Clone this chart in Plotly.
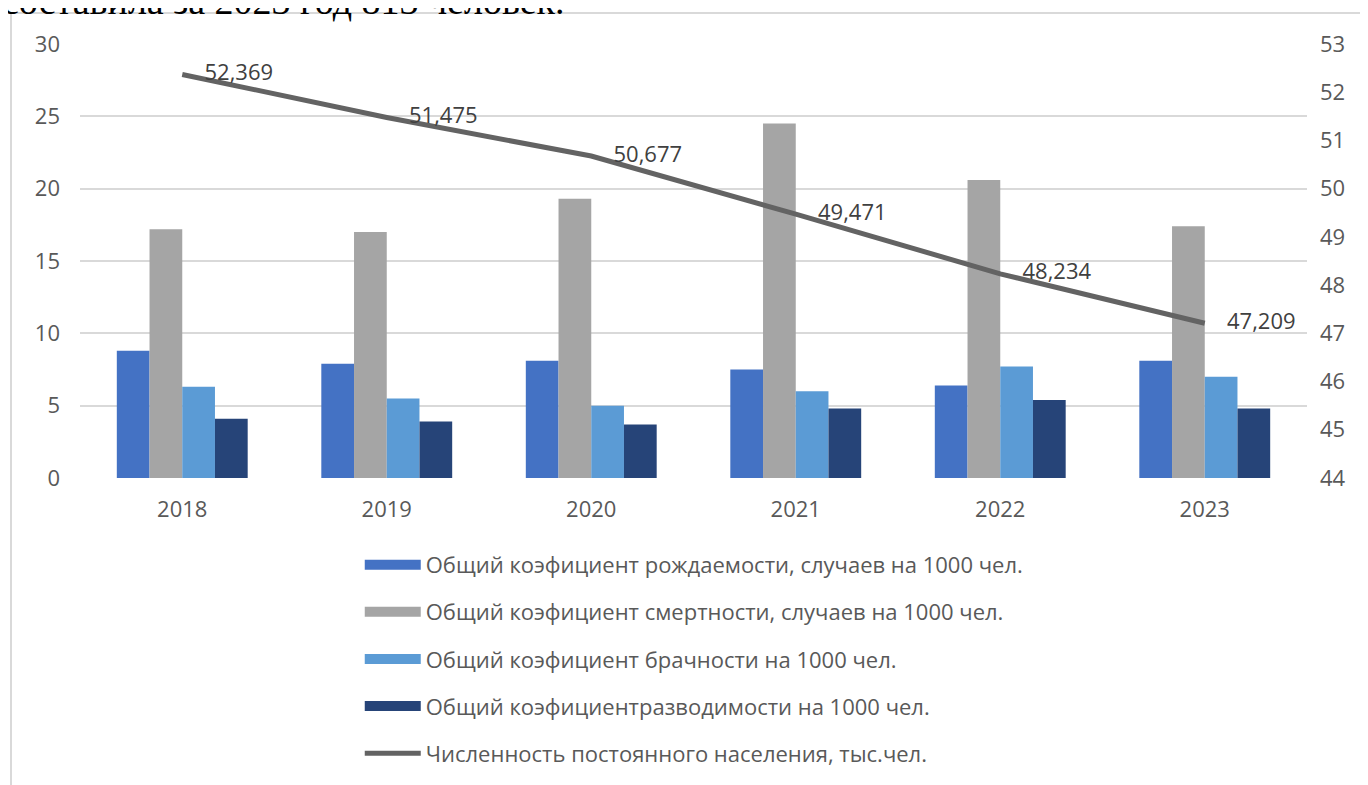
import plotly.graph_objects as go

years = ['2018', '2019', '2020', '2021', '2022', '2023']

birth_rate = [8.8, 7.9, 8.1, 7.5, 6.4, 8.1]
death_rate = [17.2, 17.0, 19.3, 24.5, 20.6, 17.4]
marriage_rate = [6.3, 5.5, 5.0, 6.0, 7.7, 7.0]
divorce_rate = [4.1, 3.9, 3.7, 4.8, 5.4, 4.8]
population = [52.369, 51.475, 50.677, 49.471, 48.234, 47.209]

bar_names = [
    'Общий коэфициент рождаемости, случаев на 1000 чел.',
    'Общий коэфициент смертности, случаев на 1000 чел.',
    'Общий коэфициент брачности на 1000 чел.',
    'Общий коэфициентразводимости на 1000 чел.',
]
line_name = 'Численность постоянного населения, тыс.чел.'

bar_colors = ['#4472C4', '#A5A5A5', '#5B9BD5', '#264478']
line_color = '#636363'
txt_color = '#595959'
grid_color = '#D9D9D9'
font_main = 'Open Sans, Liberation Sans, sans-serif'
fsize = 22

fig = go.Figure()

for i, vals in enumerate([birth_rate, death_rate, marriage_rate, divorce_rate]):
    fig.add_trace(go.Bar(
        x=years, y=vals, name=bar_names[i],
        marker_color=bar_colors[i], marker_line_width=0,
        showlegend=False,
    ))

fig.add_trace(go.Scatter(
    x=years, y=population, name=line_name, yaxis='y2',
    mode='lines+markers+text', line=dict(color=line_color, width=5),
    marker=dict(size=34, color='rgba(0,0,0,0)'),
    texttemplate='%{y:.3f}', textposition='middle right',
    textfont=dict(size=fsize, color='#404040', family=font_main),
    showlegend=False, cliponaxis=False,
))

# legend entries: wide colour swatches like the original
for i in range(4):
    fig.add_trace(go.Scatter(
        x=[None], y=[None], mode='lines', name=bar_names[i],
        line=dict(color=bar_colors[i], width=12),
        legendgroup='g%d' % i,
    ))
fig.add_trace(go.Scatter(
    x=[None], y=[None], mode='lines', name=line_name, yaxis='y2',
    line=dict(color=line_color, width=5),
    legendgroup='g4',
))

fig.update_layout(
    width=1368, height=785,
    margin=dict(l=72, r=69, t=36, b=315),
    paper_bgcolor='white', plot_bgcolor='white',
    separators=', ',
    barmode='group', bargap=0.36, bargroupgap=0,
    font=dict(family=font_main, size=fsize, color=txt_color),
    xaxis=dict(showgrid=False, showline=False, ticks='', ticklabelstandoff=16,
               automargin=False, tickfont=dict(size=fsize, color=txt_color)),
    yaxis=dict(range=[0, 30], dtick=5, showgrid=True, gridcolor=grid_color, gridwidth=1.5,
               zeroline=False, showline=False, ticks='', ticklabelstandoff=19,
               automargin=False, tickfont=dict(size=fsize, color=txt_color)),
    yaxis2=dict(range=[44, 53], dtick=1, overlaying='y', side='right', showgrid=False,
                zeroline=False, showline=False, ticks='', ticklabelstandoff=12,
                automargin=False, tickfont=dict(size=fsize, color=txt_color)),
    showlegend=True,
    legend=dict(x=0.228, xanchor='left', y=-0.152, yanchor='top',
                orientation='v', traceorder='grouped', tracegroupgap=15.5,
                itemwidth=56, font=dict(size=fsize, color=txt_color),
                bgcolor='rgba(0,0,0,0)'),
)

# chart frame borders (left and top edges of the embedded chart)
fig.add_shape(type='line', xref='paper', yref='paper',
              x0=-69 / 1227, x1=1.2, y0=1 + 31 / 434, y1=1 + 31 / 434,
              line=dict(color=grid_color, width=2))
fig.add_shape(type='line', xref='paper', yref='paper',
              x0=-69 / 1227, x1=-69 / 1227, y0=1 + 31 / 434, y1=-1.0,
              line=dict(color=grid_color, width=2))

# cut-off line of document text above the chart
fig.add_annotation(text='составила за 2023 год 813 человек.', xref='paper', yref='paper',
                   x=-80 / 1227, y=1 + 19.5 / 434, xanchor='left', yanchor='bottom',
                   showarrow=False,
                   font=dict(family='Liberation Serif, Times New Roman, serif', size=38, color='black'))

fig.write_html('out.html')
